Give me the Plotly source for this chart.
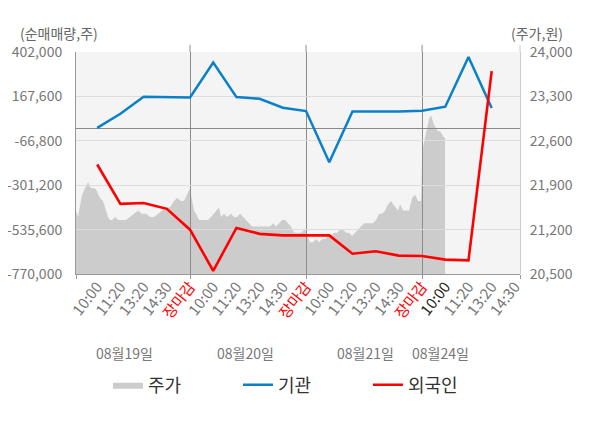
import plotly.graph_objects as go

# ---- data ----
tick_labels = ["10:00", "11:20", "13:20", "14:30", "장마감",
               "10:00", "11:20", "13:20", "14:30", "장마감",
               "10:00", "11:20", "13:20", "14:30", "장마감",
               "10:00", "11:20", "13:20", "14:30"]
date_labels = ["08월19일", "08월20일", "08월21일", "08월24일"]
volume_ticks = [-770000, -535600, -301200, -66800, 167600, 402000]
price_ticks = [20500, 21200, 21900, 22600, 23300, 24000]

# net buying volume (shares) at each category index 0..17
inst = [1500, 76000, 166000, 164000, 162000, 346000, 164000, 155000, 108000,
        90000, -180000, 88000, 87000, 88000, 92000, 113000, 376000, 106000]
foreign = [-192000, -400000, -395000, -426000, -536000, -753000, -527000,
           -558000, -566000, -566000, -566000, -663000, -650000, -673000,
           -675000, -694000, -698000, 301000]

# intraday price (won), x in category-index units
price_x = [-0.914, -0.871, -0.828, -0.655, -0.526, -0.397, -0.267, -0.095, -0.009,
           0.121, 0.250, 0.379, 0.466, 0.552, 0.638, 0.767, 0.897, 1.069, 1.241,
           1.414, 1.586, 1.759, 1.931, 2.103, 2.276, 2.448, 2.621, 2.793, 2.966,
           3.138, 3.310, 3.440, 3.612, 3.741, 3.871, 4.000,
           4.043, 4.086, 4.172, 4.259, 4.388, 4.517, 4.647, 4.776, 4.905, 5.034,
           5.164, 5.250, 5.336, 5.466, 5.595, 5.767, 5.897, 6.026, 6.155, 6.284,
           6.414, 6.543, 6.672, 6.802, 6.931, 7.103, 7.276, 7.448, 7.578, 7.707,
           7.836, 7.966, 8.095, 8.224, 8.353, 8.483, 8.612, 8.784, 8.957,
           9.043, 9.172, 9.302, 9.431, 9.560, 9.690, 9.819, 9.948, 10.078, 10.207,
           10.336, 10.466, 10.595, 10.724, 10.853, 10.983, 11.112, 11.241, 11.371,
           11.500, 11.629, 11.759, 11.888, 12.017, 12.147, 12.276, 12.405, 12.534,
           12.664, 12.750, 12.879, 12.966, 13.052, 13.181, 13.310, 13.440, 13.569,
           13.698, 13.828, 13.957,
           14.000, 14.043, 14.129, 14.216, 14.302, 14.388, 14.431, 14.517, 14.603,
           14.690, 14.776, 14.862, 14.948, 14.991]
price = [21500, 21450, 21400, 21750, 21850, 21950, 21850, 21850, 21800,
         21700, 21650, 21500, 21400, 21350, 21350, 21400, 21350, 21350, 21350,
         21400, 21450, 21500, 21450, 21450, 21400, 21400, 21450, 21500, 21550,
         21550, 21650, 21700, 21650, 21650, 21750, 21850,
         21750, 21650, 21500, 21450, 21350, 21350, 21350, 21350, 21400, 21450,
         21500, 21550, 21400, 21450, 21400, 21450, 21400, 21400, 21450, 21400,
         21350, 21300, 21250, 21250, 21250, 21250, 21250, 21250, 21300, 21250,
         21300, 21350, 21350, 21300, 21250, 21150, 21150, 21150, 21200,
         21100, 21000, 21000, 21050, 21000, 21050, 21050, 21100, 21100, 21150,
         21150, 21200, 21200, 21150, 21150, 21100, 21150, 21200, 21250,
         21300, 21300, 21300, 21300, 21350, 21450, 21450, 21500, 21600,
         21650, 21600, 21550, 21500, 21600, 21500, 21500, 21500, 21700,
         21750, 21650, 21650,
         22350, 22500, 22650, 22800, 22950, 23000, 22950, 22850, 22800,
         22750, 22750, 22700, 22650, 22650]

X_RANGE = [-0.914, 18.22]
FONT = "Noto Sans CJK KR"

def fmt_tick(i, t):
    if t == "장마감":
        return '<span style="color:#ff0000">%s</span>' % t
    if i == 15:
        return '<span style="color:#222222">%s</span>' % t
    return t

ticktext = [fmt_tick(i, t) for i, t in enumerate(tick_labels)]
volume_text = ["{:,}".format(v) for v in volume_ticks]
price_text = ["{:,}".format(v) for v in price_ticks]

fig = go.Figure()
fig.add_trace(go.Scatter(
    x=price_x, y=price, name="주가", mode="lines", fill="tozeroy",
    fillcolor="#cccccc", line=dict(color="#cccccc", width=0),
    xaxis="x", yaxis="y", hoverinfo="skip"))
fig.add_trace(go.Scatter(
    x=list(range(len(inst))), y=inst, name="기관", mode="lines",
    line=dict(color="#0a80c8", width=2.5), xaxis="x2", yaxis="y2"))
fig.add_trace(go.Scatter(
    x=list(range(len(foreign))), y=foreign, name="외국인", mode="lines",
    line=dict(color="#ff0000", width=2.6), xaxis="x2", yaxis="y2"))

fig.update_layout(
    width=600, height=428, autosize=False,
    margin=dict(l=68, r=88, t=44, b=162, autoexpand=False),
    paper_bgcolor="white", plot_bgcolor="rgba(0,0,0,0)",
    font=dict(family=FONT, color="#666666", size=14),
    xaxis=dict(domain=[0, 1], anchor="y", range=X_RANGE, automargin=False,
               tickmode="array", tickvals=list(range(len(tick_labels))),
               ticktext=ticktext, tickangle=-52, ticks="",
               tickfont=dict(size=15, color="#777777"),
               showgrid=False, zeroline=False, showline=False, fixedrange=True),
    yaxis=dict(domain=[0, 1], anchor="x", side="right", range=[20500, 24000],
               automargin=False, tickmode="array", tickvals=price_ticks,
               ticktext=price_text, ticks="",
               ticklabelstandoff=6, tickfont=dict(size=14, color="#777777"),
               showgrid=False, zeroline=False, showline=True,
               linecolor="#cccccc", linewidth=1, fixedrange=True),
    xaxis2=dict(domain=[0, 1], anchor="y2", range=X_RANGE, automargin=False,
                tickmode="array", tickvals=[X_RANGE[0], 4, 9, 14, X_RANGE[1]],
                showticklabels=False, ticks="outside", ticklen=4,
                tickcolor="#999999", showgrid=True, gridcolor="#8c8c8c",
                gridwidth=1, zeroline=False, showline=True,
                linecolor="#999999", linewidth=1, fixedrange=True),
    yaxis2=dict(domain=[0, 1], anchor="x2", side="left", automargin=False,
                range=[-770000, 402000], tickmode="array",
                tickvals=volume_ticks, ticktext=volume_text,
                ticks="", ticklabelstandoff=10,
                tickfont=dict(size=14, color="#777777"),
                showgrid=True, gridcolor="#dddddd", gridwidth=1,
                zeroline=True, zerolinecolor="#888888", zerolinewidth=1,
                showline=True, linecolor="#999999", linewidth=1,
                fixedrange=True),
    showlegend=True,
    legend=dict(orientation="h", x=0.072, xanchor="left", y=-0.5,
                yanchor="middle", entrywidth=85, traceorder="normal",
                font=dict(size=18, color="#333333"),
                bgcolor="rgba(0,0,0,0)"),
    shapes=[
        dict(type="rect", xref="paper", yref="paper", x0=0, x1=1, y0=0, y1=1,
             fillcolor="#f4f4f4", line=dict(width=0), layer="below"),
    ] + [
        dict(type="line", xref="x2", yref="paper", x0=v, x1=v, y0=1, y1=1.032,
             line=dict(color="#8c8c8c", width=1)) for v in (4, 9, 14)
    ] + [
        dict(type="line", xref="paper", yref="paper", x0=1, x1=1, y0=1, y1=1.032,
             line=dict(color="#cccccc", width=1))
    ],
)

annotations = [
    dict(text="(순매매량,주)", xref="paper", yref="paper", x=0.054, y=1.086,
         xanchor="right", yanchor="middle", showarrow=False,
         font=dict(size=14, color="#666666")),
    dict(text="(주가,원)", xref="paper", yref="paper", x=0.975, y=1.086,
         xanchor="left", yanchor="middle", showarrow=False,
         font=dict(size=14, color="#666666")),
]
date_x = [0.110, 0.381, 0.651, 0.822]
for xx, lab in zip(date_x, date_labels):
    annotations.append(dict(text=lab, xref="paper", yref="paper", x=xx, y=-0.356,
                            xanchor="center", yanchor="middle", showarrow=False,
                            font=dict(size=14, color="#777777")))
fig.update_layout(annotations=annotations)

fig.write_html("out.html")
